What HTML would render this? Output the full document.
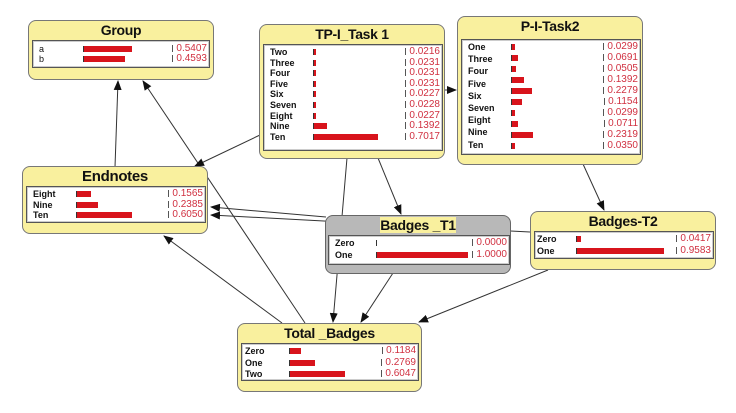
<!DOCTYPE html>
<html><head><meta charset="utf-8"><style>
body{margin:0;width:736px;height:413px;background:#fff;position:relative;overflow:hidden;font-family:"Liberation Sans",sans-serif}
.n{position:absolute;background:#f9f09e;border:1px solid #777;border-radius:8px;box-sizing:border-box}
.g{background:#b8b8b8;border-color:#666}
.t{position:absolute;left:0;right:0;top:1px;text-align:center;font-weight:bold;font-size:14px;letter-spacing:-0.3px;color:#111}
.g .t span{background:#f9f09e}
.b{position:absolute;background:#fff;border:1px solid #555;box-shadow:inset 0 0 0 1px #ccc}
.r{position:absolute;left:0;right:0;height:10px;font-size:9px;font-weight:bold;line-height:10px;color:#111}
.r .l{position:absolute;left:6px}
.r .bar{position:absolute;top:2px;height:6px;background:#d8141c;border-left:1px solid #333}
.r .v{position:absolute;right:2px;font-weight:normal;font-size:10px;color:#d03040}
.r .v:before{content:"";display:inline-block;width:1px;height:7px;background:#555;margin-right:3px;vertical-align:-1px}
svg{position:absolute;left:0;top:0}
</style></head><body>
<svg width="736" height="413">
<defs><marker id="a" markerWidth="10" markerHeight="8" refX="9" refY="4" orient="auto" markerUnits="userSpaceOnUse"><path d="M0,0 L10,4 L0,8 z" fill="#111"/></marker></defs>
<g stroke="#333" stroke-width="1" fill="none" marker-end="url(#a)">
<line x1="115" y1="167" x2="118" y2="81"/>
<line x1="305" y1="323" x2="143" y2="81"/>
<line x1="260" y1="135" x2="195" y2="166"/>
<line x1="445" y1="90" x2="456" y2="90"/>
<line x1="378" y1="158" x2="401" y2="214"/>
<line x1="347" y1="158" x2="333" y2="322"/>
<line x1="583" y1="164" x2="604" y2="210"/>
<line x1="326" y1="217" x2="211" y2="207"/>
<line x1="530" y1="232" x2="211" y2="215"/>
<line x1="282" y1="323" x2="164" y2="236"/>
<line x1="393" y1="273" x2="361" y2="322"/>
<line x1="548" y1="270" x2="419" y2="322"/>
</g></svg>

<div class="n" style="left:28px;top:20px;width:186px;height:60px"><div class="t">Group</div>
<div class="b" style="left:3px;top:19px;width:176px;height:26px">
<div class="r" style="top:3px"><span class="l" style="font-weight:normal">a</span><span class="bar" style="left:50px;width:48px"></span><span class="v">0.5407</span></div>
<div class="r" style="top:13px"><span class="l" style="font-weight:normal">b</span><span class="bar" style="left:50px;width:41px"></span><span class="v">0.4593</span></div>
</div></div>

<div class="n" style="left:259px;top:24px;width:186px;height:135px"><div class="t">TP-I_Task 1</div>
<div class="b" style="left:3px;top:19px;width:178px;height:105px">
<div class="r" style="top:2px"><span class="l">Two</span><span class="bar" style="left:49px;width:2px"></span><span class="v">0.0216</span></div>
<div class="r" style="top:12.6px"><span class="l">Three</span><span class="bar" style="left:49px;width:2px"></span><span class="v">0.0231</span></div>
<div class="r" style="top:23.2px"><span class="l">Four</span><span class="bar" style="left:49px;width:2px"></span><span class="v">0.0231</span></div>
<div class="r" style="top:33.8px"><span class="l">Five</span><span class="bar" style="left:49px;width:2px"></span><span class="v">0.0231</span></div>
<div class="r" style="top:44.4px"><span class="l">Six</span><span class="bar" style="left:49px;width:2px"></span><span class="v">0.0227</span></div>
<div class="r" style="top:55px"><span class="l">Seven</span><span class="bar" style="left:49px;width:2px"></span><span class="v">0.0228</span></div>
<div class="r" style="top:65.6px"><span class="l">Eight</span><span class="bar" style="left:49px;width:2px"></span><span class="v">0.0227</span></div>
<div class="r" style="top:76.2px"><span class="l">Nine</span><span class="bar" style="left:49px;width:13px"></span><span class="v">0.1392</span></div>
<div class="r" style="top:86.8px"><span class="l">Ten</span><span class="bar" style="left:49px;width:64px"></span><span class="v">0.7017</span></div>
</div></div>

<div class="n" style="left:457px;top:16px;width:186px;height:149px"><div class="t">P-I-Task2</div>
<div class="b" style="left:3px;top:22px;width:178px;height:114px">
<div class="r" style="top:2px"><span class="l">One</span></div>
<div class="r" style="top:14.2px"><span class="l">Three</span></div>
<div class="r" style="top:26.4px"><span class="l">Four</span></div>
<div class="r" style="top:38.6px"><span class="l">Five</span></div>
<div class="r" style="top:50.8px"><span class="l">Six</span></div>
<div class="r" style="top:63px"><span class="l">Seven</span></div>
<div class="r" style="top:75.2px"><span class="l">Eight</span></div>
<div class="r" style="top:87.4px"><span class="l">Nine</span></div>
<div class="r" style="top:99.6px"><span class="l">Ten</span></div>
<div class="r" style="top:2px"><span class="bar" style="left:49px;width:3px"></span><span class="v">0.0299</span></div>
<div class="r" style="top:13px"><span class="bar" style="left:49px;width:6px"></span><span class="v">0.0691</span></div>
<div class="r" style="top:24px"><span class="bar" style="left:49px;width:4px"></span><span class="v">0.0505</span></div>
<div class="r" style="top:35px"><span class="bar" style="left:49px;width:12px"></span><span class="v">0.1392</span></div>
<div class="r" style="top:46px"><span class="bar" style="left:49px;width:20px"></span><span class="v">0.2279</span></div>
<div class="r" style="top:57px"><span class="bar" style="left:49px;width:10px"></span><span class="v">0.1154</span></div>
<div class="r" style="top:68px"><span class="bar" style="left:49px;width:3px"></span><span class="v">0.0299</span></div>
<div class="r" style="top:79px"><span class="bar" style="left:49px;width:6px"></span><span class="v">0.0711</span></div>
<div class="r" style="top:90px"><span class="bar" style="left:49px;width:21px"></span><span class="v">0.2319</span></div>
<div class="r" style="top:101px"><span class="bar" style="left:49px;width:3px"></span><span class="v">0.0350</span></div>
</div></div>

<div class="n" style="left:22px;top:166px;width:186px;height:68px"><div class="t" style="font-size:15px">Endnotes</div>
<div class="b" style="left:3px;top:19px;width:178px;height:35px">
<div class="r" style="top:2px"><span class="l">Eight</span><span class="bar" style="left:49px;width:14px"></span><span class="v">0.1565</span></div>
<div class="r" style="top:12.5px"><span class="l">Nine</span><span class="bar" style="left:49px;width:21px"></span><span class="v">0.2385</span></div>
<div class="r" style="top:23px"><span class="l">Ten</span><span class="bar" style="left:49px;width:55px"></span><span class="v">0.6050</span></div>
</div></div>

<div class="n g" style="left:325px;top:215px;width:186px;height:59px"><div class="t"><span>Badges _T1</span></div>
<div class="b" style="left:2px;top:19px;width:180px;height:28px">
<div class="r" style="top:2px"><span class="l">Zero</span><span class="bar" style="left:47px;width:0px"></span><span class="v">0.0000</span></div>
<div class="r" style="top:14px"><span class="l">One</span><span class="bar" style="left:47px;width:91px"></span><span class="v">1.0000</span></div>
</div></div>

<div class="n" style="left:530px;top:211px;width:186px;height:59px"><div class="t">Badges-T2</div>
<div class="b" style="left:3px;top:19px;width:178px;height:26px">
<div class="r" style="top:2px"><span class="l" style="left:2px">Zero</span><span class="bar" style="left:41px;width:4px"></span><span class="v">0.0417</span></div>
<div class="r" style="top:14px"><span class="l" style="left:2px">One</span><span class="bar" style="left:41px;width:87px"></span><span class="v">0.9583</span></div>
</div></div>

<div class="n" style="left:237px;top:323px;width:185px;height:69px"><div class="t">Total _Badges</div>
<div class="b" style="left:3px;top:19px;width:176px;height:36px">
<div class="r" style="top:2px"><span class="l" style="left:3px">Zero</span><span class="bar" style="left:47px;width:11px"></span><span class="v">0.1184</span></div>
<div class="r" style="top:13.5px"><span class="l" style="left:3px">One</span><span class="bar" style="left:47px;width:25px"></span><span class="v">0.2769</span></div>
<div class="r" style="top:25px"><span class="l" style="left:3px">Two</span><span class="bar" style="left:47px;width:55px"></span><span class="v">0.6047</span></div>
</div></div>
</body></html>
